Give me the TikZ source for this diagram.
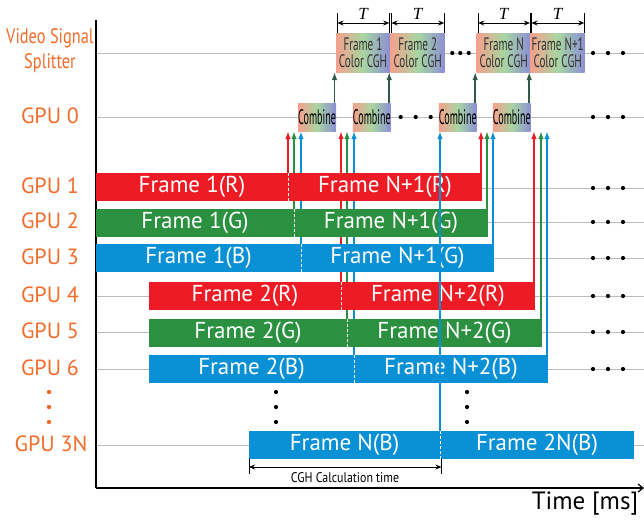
\documentclass[tikz,border=0pt]{standalone}
\usepackage{fontspec}
\setmainfont{PT Sans}
\newfontfamily\combfont[FakeStretch=0.48]{PT Sans}
\newfontfamily\framefont[FakeStretch=0.62]{PT Sans}
\newfontfamily\cghfont[FakeStretch=0.85]{PT Sans}
\newfontfamily\vsfont[FakeStretch=0.78]{PT Sans}
\newfontfamily\tfont{Liberation Serif}
\usetikzlibrary{arrows.meta}
\pgfdeclarelayer{bg}
\pgfdeclarelayer{mid}
\pgfsetlayers{bg,mid,main}
\definecolor{cR}{HTML}{ED1C24}
\definecolor{cG}{HTML}{2B9140}
\definecolor{cB}{HTML}{0A90D5}
\definecolor{cO}{HTML}{F26B2A}
\definecolor{cGray}{HTML}{BBBBBB}
\definecolor{gL}{HTML}{F4A08C}
\definecolor{gM}{HTML}{A8D6A2}
\definecolor{gRt}{HTML}{8C8ED4}
\definecolor{cgLine}{HTML}{2F5A48}
\definecolor{cgTip}{HTML}{8FA24E}
\begin{document}
\begin{tikzpicture}[x=1pt,y=-1pt,
  bar/.style={anchor=west, minimum height=28pt, inner sep=0pt, outer sep=0pt, text=white, font=\fontsize{23}{23}\selectfont},
  rbar/.style={bar, fill=cR},
  gbar/.style={bar, fill=cG},
  bbar/.style={bar, fill=cB},
  sepline/.style={draw=white, line width=0.9pt, dash pattern=on 3pt off 2pt},
  lab/.style={text=cO, font=\fontsize{22}{22}\selectfont, inner sep=0pt},
  gridline/.style={draw=cGray, line width=0.9pt},
  rgb/.style={line width=1.6pt, -{Latex[length=8pt,width=5.5pt]}},
  comb/.style={anchor=east, minimum width=37pt, minimum height=28pt, inner sep=0pt, outer sep=0pt, left color=gL, right color=gRt, middle color=gM, font=\combfont\fontsize{21}{21}\selectfont},
  fr/.style={anchor=west, minimum width=54pt, minimum height=39pt, inner sep=0pt, outer sep=0pt, left color=gL, right color=gRt, middle color=gM, align=center, text=black!80, font=\framefont\fontsize{18}{17}\selectfont},
  cgarr/.style={line width=1.5pt, draw=cgLine, -{Latex[length=8pt,width=5.5pt,fill=cgTip]}},
  tarr/.style={line width=0.8pt, {Stealth[length=6pt,width=5pt]}-{Stealth[length=6pt,width=5pt]}},
  tick/.style={line width=0.8pt},
  tlab/.style={font=\tfont\itshape\fontsize{17}{17}\selectfont, inner sep=0pt}
]
\useasboundingbox (0,0) rectangle (644,520);

% grid lines
\begin{pgfonlayer}{bg}
\foreach \yy in {53,117,188,222,258,296,332,369,445}
  \draw[gridline] (96,\yy) -- (644,\yy);
\end{pgfonlayer}

% axes
\coordinate (otop) at (96,20);
\coordinate (org) at (96,488);
\coordinate (xend) at (644,488);
\draw[line width=1.2pt] (otop) -- (org);
\draw[line width=1.2pt, -{Straight Barb[length=5pt,width=8pt]}] (org) -- (xend);
\node[font=\fontsize{25}{25}\selectfont, inner sep=0pt] (time) at (585,504) {Time [ms]};

% left labels
\node[lab, align=center, font=\vsfont\fontsize{21}{25}\selectfont] (lvs) at (50,51) {Video Signal\\Splitter};
\node[lab] (l0) at (50,116) {GPU 0};
\node[lab] (l1) at (50,186) {GPU 1};
\node[lab] (l2) at (50,221) {GPU 2};
\node[lab] (l3) at (50,257) {GPU 3};
\node[lab] (l4) at (50,295) {GPU 4};
\node[lab] (l5) at (50,331) {GPU 5};
\node[lab] (l6) at (50,368) {GPU 6};
\node[lab] (l3n) at (51,444) {GPU 3N};
\foreach \yy in {392,407,422} \fill[cO] (49,\yy) circle (2.2pt);

% bars
\node[rbar, minimum width=192pt] (r1a) at (96,187) {Frame 1(R)};
\node[rbar, minimum width=194pt] (r1b) at (288,187) {Frame N+1(R)};
\node[gbar, minimum width=198pt] (g2a) at (96,222.5) {Frame 1(G)};
\node[gbar, minimum width=194pt] (g2b) at (294,222.5) {Frame N+1(G)};
\node[bbar, minimum width=205pt] (b3a) at (96,257.5) {Frame 1(B)};
\node[bbar, minimum width=193pt] (b3b) at (301,257.5) {Frame N+1(G)};
\node[rbar, minimum width=192pt] (r4a) at (149,296) {Frame 2(R)};
\node[rbar, minimum width=194pt] (r4b) at (341,296) {Frame N+2(R)};
\node[gbar, minimum width=198pt] (g5a) at (149,332.5) {Frame 2(G)};
\node[gbar, minimum width=195pt] (g5b) at (347,332.5) {Frame N+2(G)};
\node[bbar, minimum width=205pt] (b6a) at (149,369) {Frame 2(B)};
\node[bbar, minimum width=194pt] (b6b) at (354,369) {Frame N+2(B)};
\node[bbar, minimum width=191pt] (bna) at (249,445) {Frame N(B)};
\node[bbar, minimum width=194pt] (bnb) at (440,445) {Frame 2N(B)};

\foreach \n in {r1a,g2a,b3a,r4a,g5a,b6a,bna}
  \draw[sepline] (\n.north east) -- (\n.south east);

% combine boxes
\node[comb] (c1) at (336,117) {Combine};
\node[comb] (c2) at (390.7,117) {Combine};
\node[comb] (c3) at (476.7,117) {Combine};
\node[comb] (c4) at (530.7,117) {Combine};

% frame colour CGH boxes
\node[fr] (f1) at (336,52.5) {Frame 1\\Color CGH};
\node[fr] (f2) at (390.7,52.5) {Frame 2\\Color CGH};
\node[fr] (f3) at (476.7,52.5) {Frame N\\Color CGH};
\node[fr] (f4) at (530.7,52.5) {Frame N+1\\Color CGH};

% RGB connectors (behind bars)
\coordinate (e1) at ([xshift=-1pt]r1b.east);
\coordinate (e2) at ([xshift=-1pt]g2b.east);
\coordinate (e3) at ([xshift=-1pt]b3b.east);
\coordinate (e4) at ([xshift=-1pt]r4b.east);
\coordinate (e5) at ([xshift=-1pt]g5b.east);
\coordinate (e6) at ([xshift=-1pt]b6b.east);
\begin{pgfonlayer}{mid}
\draw[rgb, cR] (r1a.east) -- (r1a.east |- c1.south);
\draw[rgb, cG] (g2a.east) -- (g2a.east |- c1.south);
\draw[rgb, cB] (b3a.east) -- (b3a.east |- c1.south);
\draw[rgb, cR] (r4a.east) -- (r4a.east |- c2.south);
\draw[rgb, cG] (g5a.east) -- (g5a.east |- c2.south);
\draw[rgb, cB] (b6a.east) -- (b6a.east |- c2.south);
\draw[rgb, cR] (e1) -- (e1 |- c4.south);
\draw[rgb, cG] (e2) -- (e2 |- c4.south);
\draw[rgb, cB] (e3) -- (e3 |- c4.south);
\draw[rgb, cR] (e4) -- (e4 |- c4.south);
\draw[rgb, cG] (e5) -- (e5 |- c4.south);
\draw[rgb, cB] (e6) -- (e6 |- c4.south);
\end{pgfonlayer}
\draw[rgb, cB] (bna.north east) -- (bna.north east |- c3.south);

% combine -> frame
\draw[cgarr] ([xshift=-1.5pt]c1.north east) -- ([xshift=-1.5pt]f1.south west);
\draw[cgarr] ([xshift=-1.5pt]c2.north east) -- ([xshift=-1.5pt]f2.south west);
\draw[cgarr] ([xshift=-1.5pt]c3.north east) -- ([xshift=-1.5pt]f3.south west);
\draw[cgarr] ([xshift=-1.5pt]c4.north east) -- ([xshift=-1.5pt]f4.south west);

% T intervals
\foreach \f/\l/\r in {f1/1.5/-0.8, f2/0.8/-0.5, f3/1.5/-0.8, f4/0.8/-0.5}{
  \draw[tick] ([xshift=\l pt]\f.north west) -- ([xshift=\l pt, yshift=20pt]\f.north west);
  \draw[tick] ([xshift=\r pt]\f.north east) -- ([xshift=\r pt, yshift=20pt]\f.north east);
  \draw[tarr] ([xshift=\l pt, yshift=10pt]\f.north west) -- ([xshift=\r pt, yshift=10pt]\f.north east);
  \node[tlab] (T\f) at ([yshift=19pt]\f.north) {T};
}

% CGH calculation time
\draw[tick] (bna.south west) -- ([yshift=-15pt]bna.south west);
\draw[tick] ([xshift=1.5pt]bna.south east) -- ([xshift=1.5pt, yshift=-15pt]bna.south east);
\draw[tarr] ([yshift=-8pt]bna.south west) -- ([xshift=1.5pt, yshift=-8pt]bna.south east);
\node[font=\cghfont\fontsize{14}{14}\selectfont, inner sep=0pt] (cgh) at (345,478) {CGH Calculation time};

% dots
\foreach \xx in {452.3,460.3,468.7} \fill (\xx,53) circle (2.1pt);
\foreach \xx in {400.7,415.7,430.7} \fill (\xx,117) circle (2.1pt);
\foreach \yy in {53,117,188,222,258,296,332,369}
  \foreach \xx in {593,608,623} \fill (\xx,\yy) circle (2.1pt);
\foreach \yy in {392,407,422} {
  \fill (276,\yy) circle (2.1pt);
  \fill (467,\yy) circle (2.1pt);
}
\end{tikzpicture}
\end{document}
